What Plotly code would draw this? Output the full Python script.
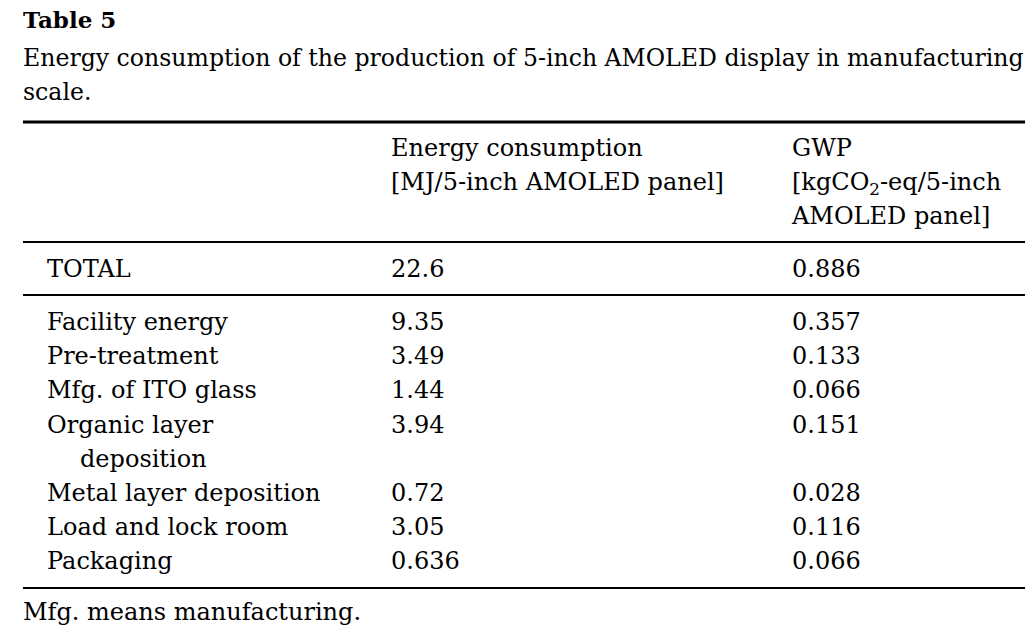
import plotly.graph_objects as go

# table content
title = "Table 5"
caption = ["Energy consumption of the production of 5-inch AMOLED display in manufacturing",
           "scale."]
col_headers = ["",
               "Energy consumption<br>[MJ/5-inch AMOLED panel]",
               "GWP<br>[kgCO<sub>2</sub>-eq/5-inch<br>AMOLED panel]"]
total_label = "TOTAL"
total_energy = "22.6"
total_gwp = "0.886"
items = ["Facility energy", "Pre-treatment", "Mfg. of ITO glass",
         "Organic layer<br>deposition", "Metal layer deposition",
         "Load and lock room", "Packaging"]
energy = ["9.35", "3.49", "1.44", "3.94", "0.72", "3.05", "0.636"]
gwp = ["0.357", "0.133", "0.066", "0.151", "0.028", "0.116", "0.066"]
footnote = "Mfg. means manufacturing."

W, H = 1033, 635
PAGE_OFF = 8  # default body margin of the html page
FONT = "DejaVu Serif"
SIZE = 24
PITCH = 34.2
TEXT_DY = 2
X_LEFT, X_LABEL, X_INDENT, X_COL1, X_COL2 = 23, 47, 80, 391, 792
RULE_X1 = 1028

xs, ys, txt = [], [], []


def put(x, y, s):
    xs.append(x)
    ys.append(y + TEXT_DY)
    txt.append(s)


# header
for col_x, head in zip([X_LABEL, X_COL1, X_COL2], col_headers):
    for i, line in enumerate(head.split("<br>")):
        if line:
            put(col_x, 148 + i * PITCH, line)

# total row
put(X_LABEL, 269, total_label)
put(X_COL1, 269, total_energy)
put(X_COL2, 269, total_gwp)

# body rows
line_no = 0
for lab, e, g in zip(items, energy, gwp):
    y0 = 322 + line_no * PITCH
    parts = lab.split("<br>")
    for k, p in enumerate(parts):
        put(X_LABEL if k == 0 else X_INDENT, y0 + k * PITCH, p)
    put(X_COL1, y0, e)
    put(X_COL2, y0, g)
    line_no += len(parts)

# footnote
put(X_LEFT, 612, footnote)

fig = go.Figure()
fig.add_trace(go.Scatter(
    x=xs, y=ys, text=txt, mode="text", textposition="middle right",
    textfont=dict(family=FONT, size=SIZE, color="black"),
    hoverinfo="skip", showlegend=False, cliponaxis=False,
))
# caption, slightly narrower to fit the width
fig.add_trace(go.Scatter(
    x=[X_LEFT] * len(caption),
    y=[58 + TEXT_DY + i * PITCH for i in range(len(caption))],
    text=caption, mode="text", textposition="middle right",
    textfont=dict(family=FONT, size=23.6, color="black"),
    hoverinfo="skip", showlegend=False, cliponaxis=False,
))
fig.add_trace(go.Scatter(
    x=[X_LEFT], y=[20 + TEXT_DY], text=["<b>" + title + "</b>"], mode="text",
    textposition="middle right",
    textfont=dict(family=FONT, size=23, color="black"),
    hoverinfo="skip", showlegend=False, cliponaxis=False,
))

# horizontal rules
for y, w in [(122, 3), (242, 2), (295, 2), (588, 2)]:
    fig.add_shape(type="line", x0=X_LEFT, x1=RULE_X1, y0=y, y1=y,
                  line=dict(color="black", width=w))

fig.update_xaxes(range=[PAGE_OFF, W + PAGE_OFF], visible=False, fixedrange=True)
fig.update_yaxes(range=[H + PAGE_OFF, PAGE_OFF], visible=False, fixedrange=True)
fig.update_layout(
    width=W, height=H,
    margin=dict(l=0, r=0, t=0, b=0),
    plot_bgcolor="white", paper_bgcolor="white",
)

fig.write_html("out.html")
